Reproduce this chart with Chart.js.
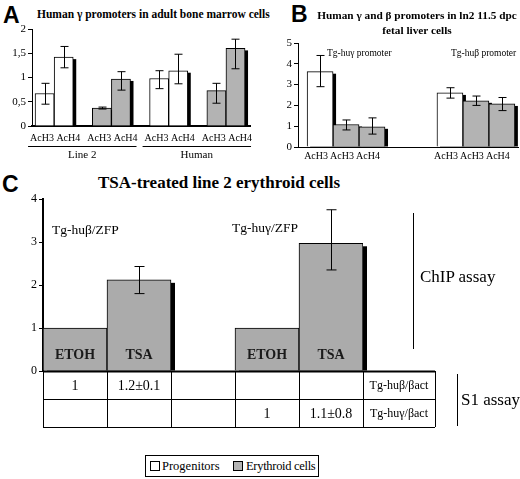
<!DOCTYPE html>
<html>
<head>
<meta charset="utf-8">
<script src="https://cdn.jsdelivr.net/npm/chart.js@4.4.0/dist/chart.umd.min.js"></script>
<style>
  body { margin: 0; background: #fff; width: 520px; height: 479px; position: relative; overflow: hidden;
         font-family: "Liberation Serif", "Times New Roman", serif; color: #000; }
  canvas { position: absolute; }
  .t { position: absolute; white-space: nowrap; line-height: 1; }
  .letter { font-family: "Liberation Sans", Arial, sans-serif; font-weight: bold; font-size: 23px; }
  .head { font-weight: bold; font-size: 11.5px; }
  .vline { position: absolute; width: 1px; background: #000; }
  .sq { position: absolute; width: 8px; height: 8px; border: 1px solid #000; }
</style>
</head>
<body>
<div class="t letter" style="left:3px;top:4px">A</div>
<div class="t head" style="left:37px;top:9px">Human γ promoters in adult bone marrow cells</div>
<canvas id="chartA" width="260" height="165" style="left:0;top:0"></canvas>

<div class="t letter" style="left:291px;top:3px">B</div>
<div class="t head" style="left:297px;top:8px;width:240px;text-align:center;line-height:15px;font-size:11.3px">Human γ and β promoters in ln2 11.5 dpc<br>fetal liver cells</div>
<canvas id="chartB" width="262" height="165" style="left:258px;top:0"></canvas>
<div class="t" style="left:327px;top:49px;font-size:9.5px">Tg-huγ promoter</div>
<div class="t" style="left:451px;top:49px;font-size:9.5px">Tg-huβ promoter</div>

<div class="t letter" style="left:2px;top:173px">C</div>
<div class="t" style="left:0;top:174px;width:438px;text-align:center;font-weight:bold;font-size:17px">TSA-treated line 2 erythroid cells</div>
<canvas id="chartC" width="520" height="270" style="left:0;top:170px"></canvas>
<div class="t" style="left:52px;top:223px;font-size:13.5px">Tg-huβ/ZFP</div>
<div class="t" style="left:232px;top:221px;font-size:13.5px">Tg-huγ/ZFP</div>
<div class="vline" style="left:413px;top:213px;height:136px"></div>
<div class="t" style="left:420px;top:268px;font-size:17px">ChIP assay</div>
<div class="vline" style="left:457px;top:374px;height:52px"></div>
<div class="t" style="left:461px;top:391px;font-size:17px">S1 assay</div>

<div style="position:absolute;left:145px;top:455px;width:172px;height:20px;border:1px solid #000">
  <div class="sq" style="left:4px;top:5px;background:#fff"></div>
  <div class="t" style="left:16px;top:4px;font-size:12.5px">Progenitors</div>
  <div class="sq" style="left:87px;top:5px;background:#b3b3b3"></div>
  <div class="t" style="left:100px;top:4px;font-size:12.5px;letter-spacing:-0.3px">Erythroid cells</div>
</div>

<script>
// panel A: human gamma promoters, adult bone marrow
const aLabels  = ['AcH3', 'AcH4', '', 'AcH3', 'AcH4', '', 'AcH3', 'AcH4', '', 'AcH3', 'AcH4'];
const aCells   = ['P', 'P', '', 'E', 'E', '', 'P', 'P', '', 'E', 'E'];
const aValues  = [0.67, 1.42, null, 0.37, 0.97, null, 0.98, 1.14, null, 0.73, 1.60];
const aErrLow  = [0.45, 1.20, null, 0.35, 0.74, null, 0.77, 0.87, null, 0.47, 1.18];
const aErrHigh = [0.88, 1.64, null, 0.39, 1.12, null, 1.14, 1.48, null, 0.88, 1.79];
const aGroups  = [{ name: 'Line 2', from: 0, to: 4 }, { name: 'Human', from: 6, to: 10 }];
const aTickLabels = ['0', '0,5', '1', '1,5', '2'];

// panel B: gamma and beta promoters, fetal liver
const bLabels  = ['AcH3', 'AcH3', 'AcH4', '', '', 'AcH3', 'AcH3', 'AcH4'];
const bCells   = ['P', 'E', 'E', '', '', 'P', 'E', 'E'];
const bValues  = [3.62, 1.08, 0.97, null, null, 2.60, 2.22, 2.07];
const bErrLow  = [2.90, 0.82, 0.62, null, null, 2.35, 2.00, 1.75];
const bErrHigh = [4.40, 1.30, 1.40, null, null, 2.85, 2.45, 2.38];

// panel C: TSA-treated line 2 erythroid cells
const cLabels  = ['ETOH', 'TSA', '', 'ETOH', 'TSA'];
const cValues  = [1.0, 2.12, null, 1.0, 2.97];
const cErrLow  = [null, 1.80, null, null, 2.35];
const cErrHigh = [null, 2.43, null, null, 3.75];
const s1Rows   = ['Tg-huβ/βact', 'Tg-huγ/βact'];
const s1Values = [['1', '1.2±0.1', '', '', ''], ['', '', '', '1', '1.1±0.8']];

const GRAY = '#b3b3b3';
const SERIF = '"Liberation Serif", "Times New Roman", serif';
Chart.defaults.font.family = SERIF;

// black drop shadow behind each bar + error bars on top
const barExtras = {
  id: 'barExtras',
  beforeDatasetsDraw(chart, args, opts) {
    const ctx = chart.ctx;
    const ds = chart.data.datasets[0];
    ctx.save();
    ctx.fillStyle = '#000';
    chart.getDatasetMeta(0).data.forEach((bar, i) => {
      const raw = ds.data[i];
      const v = raw !== null && typeof raw === 'object' ? raw.y : raw;
      if (v == null) return;
      const { x, y, base, width } = bar.getProps(['x', 'y', 'base', 'width'], true);
      ctx.fillRect(x - width / 2 + opts.dx, y + opts.dy, width, base - y - opts.dy);
    });
    ctx.restore();
  },
  afterDatasetsDraw(chart, args, opts) {
    const ctx = chart.ctx;
    const ds = chart.data.datasets[0];
    const ys = chart.scales.y;
    ctx.save();
    ctx.strokeStyle = '#000';
    ctx.lineWidth = 1;
    chart.getDatasetMeta(0).data.forEach((bar, i) => {
      if (ds.errLow[i] == null) return;
      const x = Math.round(bar.x) + 0.5;
      const lo = ys.getPixelForValue(ds.errLow[i]);
      const hi = ys.getPixelForValue(ds.errHigh[i]);
      ctx.beginPath();
      ctx.moveTo(x, lo); ctx.lineTo(x, hi);
      ctx.moveTo(x - opts.cap, lo); ctx.lineTo(x + opts.cap, lo);
      ctx.moveTo(x - opts.cap, hi); ctx.lineTo(x + opts.cap, hi);
      ctx.stroke();
    });
    ctx.restore();
  }
};

function yAxis(min, max, step, width, fontSize, borderWidth, labels) {
  return {
    min: min, max: max,
    afterFit(scale) { scale.width = width; },
    border: { display: true, color: '#000', width: borderWidth },
    grid: { drawOnChartArea: false, drawTicks: true, tickLength: 4, color: '#000' },
    ticks: {
      stepSize: step, padding: 2, color: '#000',
      font: { size: fontSize },
      callback: labels ? (v, i) => labels[i] : v => v
    }
  };
}

// ---- A ---- (linear x so the bars sit where the original puts them)
new Chart(document.getElementById('chartA'), {
  type: 'bar',
  data: {
    datasets: [{
      data: aValues.map((v, i) => ({ x: i, y: v })),
      errLow: aErrLow, errHigh: aErrHigh,
      backgroundColor: aCells.map(c => c === 'P' ? '#fff' : GRAY),
      borderColor: '#000', borderWidth: 1,
      barPercentage: 1, categoryPercentage: 1
    }]
  },
  options: {
    responsive: false, animation: false,
    layout: { padding: { top: 29, right: 10, left: 0, bottom: 0 } },
    plugins: {
      legend: { display: false }, tooltip: { enabled: false },
      barExtras: { dx: 3, dy: 2, cap: 4 }
    },
    scales: {
      x: {
        type: 'linear', min: -0.66, max: 10.76, offset: false,
        afterFit(scale) { scale.height = 39; },
        border: { display: true, color: '#000', width: 2 },
        grid: { display: false, drawTicks: false },
        ticks: { display: false }
      },
      y: yAxis(0, 2, 0.5, 32, 11, 1, aTickLabels)
    }
  },
  plugins: [barExtras, {
    id: 'groupLabels',
    afterDraw(chart) {
      const ctx = chart.ctx;
      const xs = chart.scales.x;
      const y0 = chart.chartArea.bottom;
      ctx.save();
      ctx.strokeStyle = '#000';
      ctx.fillStyle = '#000';
      ctx.textAlign = 'center';
      ctx.textBaseline = 'middle';
      // antibody labels, one pair per bar pair
      ctx.font = '10px ' + SERIF;
      for (let i = 0; i < aLabels.length; i += 3) {
        const c = (xs.getPixelForValue(i) + xs.getPixelForValue(i + 1)) / 2 + 1;
        ctx.fillText(aLabels[i] + ' ' + aLabels[i + 1], c, y0 + 12);
      }
      ctx.font = '11px ' + SERIF;
      aGroups.forEach(g => {
        const x0 = xs.getPixelForValue(g.from - 0.5) - 7;
        const x1 = xs.getPixelForValue(g.to + 0.5) + 6;
        ctx.beginPath();
        ctx.moveTo(x0, y0 + 20.5); ctx.lineTo(x1, y0 + 20.5);
        ctx.stroke();
        ctx.fillText(g.name, (x0 + x1) / 2, y0 + 29);
      });
      ctx.restore();
    }
  }]
});

// ---- B ----
new Chart(document.getElementById('chartB'), {
  type: 'bar',
  data: {
    datasets: [{
      data: bValues.map((v, i) => ({ x: i, y: v })),
      errLow: bErrLow, errHigh: bErrHigh,
      backgroundColor: bCells.map(c => c === 'P' ? '#fff' : GRAY),
      borderColor: '#000', borderWidth: 1,
      barPercentage: 1, categoryPercentage: 1
    }]
  },
  options: {
    responsive: false, animation: false,
    layout: { padding: { top: 43, right: 2, left: 0, bottom: 0 } },
    plugins: {
      legend: { display: false }, tooltip: { enabled: false },
      barExtras: { dx: 3, dy: 2, cap: 4 }
    },
    scales: {
      x: {
        type: 'linear', min: -0.85, max: 7.62, offset: false,
        afterFit(scale) { scale.height = 18; },
        border: { display: true, color: '#000', width: 1 },
        grid: { display: false, drawTicks: false },
        ticks: {
          stepSize: 1, includeBounds: false, autoSkip: false, maxRotation: 0,
          padding: 3, labelOffset: -4, color: '#000', font: { size: 10 },
          callback: v => bLabels[v] || ''
        }
      },
      y: yAxis(0, 5, 1, 40, 11, 1)
    }
  },
  plugins: [barExtras]
});

// ---- C ----
new Chart(document.getElementById('chartC'), {
  type: 'bar',
  data: {
    labels: cLabels,
    datasets: [{
      data: cValues, errLow: cErrLow, errHigh: cErrHigh,
      backgroundColor: '#ababab',
      borderColor: '#000', borderWidth: 1,
      barPercentage: 1, categoryPercentage: 1
    }]
  },
  options: {
    responsive: false, animation: false,
    layout: { padding: { top: 29, right: 157, left: 0, bottom: 0 } },
    plugins: {
      legend: { display: false }, tooltip: { enabled: false },
      barExtras: { dx: 4, dy: 3, cap: 5 }
    },
    scales: {
      x: {
        afterFit(scale) { scale.height = 69; },
        border: { display: false },
        grid: { display: false, drawTicks: false },
        ticks: { display: false }
      },
      y: yAxis(0, 4, 1, 43, 12, 2)
    }
  },
  plugins: [barExtras, {
    id: 'barTextAndTable',
    afterDraw(chart) {
      const ctx = chart.ctx;
      const xs = chart.scales.x, ys = chart.scales.y;
      const slot = xs.getPixelForValue(1) - xs.getPixelForValue(0);
      const top = ys.getPixelForValue(0);
      ctx.save();
      ctx.fillStyle = '#1a1a1a';
      ctx.textAlign = 'center';
      ctx.textBaseline = 'middle';
      ctx.font = 'bold 14px ' + SERIF;
      cLabels.forEach((lab, i) => {
        if (cValues[i] == null) return;
        ctx.fillText(lab, xs.getPixelForValue(i), top - 16);
      });

      // S1 assay table under the axis
      const cols = cLabels.map((_, i) => xs.getPixelForValue(i) - slot / 2);
      cols.push(xs.getPixelForValue(cLabels.length - 1) + slot / 2);
      cols.push(cols[cols.length - 1] + 72);
      const rows = [top, top + 28, top + 56];
      ctx.strokeStyle = '#000';
      ctx.fillStyle = '#000';
      rows.forEach((r, k) => {
        ctx.lineWidth = k === 0 ? 2 : 1;
        ctx.beginPath();
        ctx.moveTo(cols[0], Math.round(r) + 0.5);
        ctx.lineTo(cols[cols.length - 1], Math.round(r) + 0.5);
        ctx.stroke();
      });
      ctx.lineWidth = 1;
      cols.forEach(c => {
        ctx.beginPath();
        ctx.moveTo(Math.round(c) + 0.5, rows[0]);
        ctx.lineTo(Math.round(c) + 0.5, rows[2]);
        ctx.stroke();
      });
      s1Values.forEach((row, r) => {
        const yMid = (rows[r] + rows[r + 1]) / 2 + 1;
        ctx.font = '14px ' + SERIF;
        row.forEach((txt, i) => {
          if (txt) ctx.fillText(txt, (cols[i] + cols[i + 1]) / 2, yMid);
        });
        ctx.font = '12px ' + SERIF;
        const last = cols.length - 1;
        ctx.fillText(s1Rows[r], (cols[last - 1] + cols[last]) / 2, yMid);
      });
      ctx.restore();
    }
  }]
});
</script>
</body>
</html>
